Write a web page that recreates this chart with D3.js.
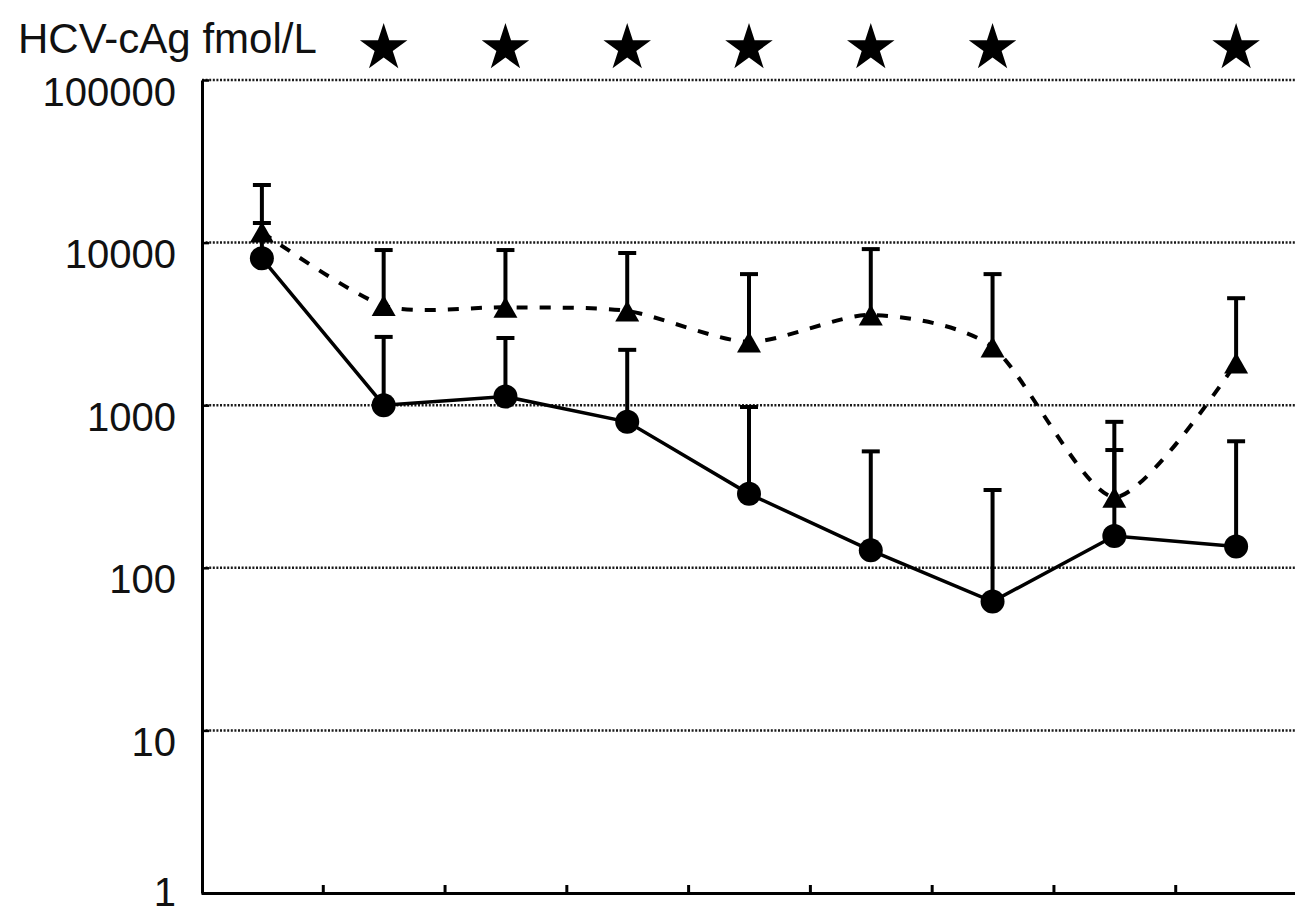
<!DOCTYPE html>
<html>
<head>
<meta charset="utf-8">
<script src="https://cdn.jsdelivr.net/npm/d3@7"></script>
<style>
  html, body { margin: 0; padding: 0; background: #fff; }
  svg { display: block; }
  text { font-family: "Liberation Sans", Arial, sans-serif; fill: #111; }
</style>
</head>
<body>
<svg id="chart" width="1295" height="920"></svg>
<script>
// Time points along the x axis (unlabelled in the figure)
const timePoints = ["T0", "T1", "T2", "T3", "T4", "T5", "T6", "T7", "T8"];

// Solid series (circles): mean and upper error bar, fmol/L
const solidMean  = [8000, 1000, 1130, 790, 285, 128, 62, 157, 135];
const solidUpper = [13200, 2630, 2590, 2190, 975, 520, 301, 530, 600];

// Dashed series (triangles): mean and upper error bar, fmol/L
const dashedMean  = [11600, 4100, 4000, 3800, 2450, 3590, 2280, 272, 1820];
const dashedUpper = [22600, 9000, 9000, 8630, 6400, 9120, 6400, 790, 4550];

// Time points marked as significant
const starred = ["T1", "T2", "T3", "T4", "T5", "T6", "T8"];

const yTicks = [1, 10, 100, 1000, 10000, 100000];
const yTitle = "HCV-cAg fmol/L";

const svg = d3.select("#chart");
const W = 1295;
const plot = { left: 201, right: 1297, top: 80, bottom: 893 };

const x = d3.scaleBand().domain(timePoints).range([plot.left, plot.right]);
const xc = d => x(d) + x.bandwidth() / 2;
const xEdges = d3.scaleLinear().domain([0, timePoints.length]).range([plot.left, plot.right]);
const y = d3.scaleLog().domain([1, 100000]).range([plot.bottom, plot.top]);

// Dotted horizontal gridlines
svg.append("g")
  .selectAll("line")
  .data(yTicks.filter(v => v > 1))
  .join("line")
  .attr("x1", plot.left + 1).attr("x2", W)
  .attr("y1", d => y(d)).attr("y2", d => y(d))
  .attr("stroke", "#1a1a1a")
  .attr("stroke-width", 2.5)
  .attr("stroke-dasharray", "2 1.6");

// Y axis with inward ticks, labels sitting just below each gridline
const yAxis = svg.append("g")
  .attr("transform", `translate(${plot.left + 1},0)`)
  .call(d3.axisLeft(y)
    .tickValues(yTicks)
    .tickFormat(d3.format("d"))
    .tickSizeInner(-7)
    .tickSizeOuter(0)
    .tickPadding(26));
yAxis.select(".domain").attr("stroke", "#000").attr("stroke-width", 3);
yAxis.selectAll(".tick line").attr("stroke", "#000").attr("stroke-width", 2.5);
yAxis.selectAll(".tick text")
  .attr("dy", d => d === 1 ? 12 : 25)   // bottom label tucked up so it stays on the page
  .style("font-size", "40px")
  .style("font-family", "\"Liberation Sans\", Arial, sans-serif")
  .attr("fill", "#111");

// X axis with inward ticks at the band boundaries
const xAxis = svg.append("g")
  .attr("transform", `translate(0,${plot.bottom})`)
  .call(d3.axisBottom(xEdges)
    .tickValues(d3.range(1, timePoints.length + 1))
    .tickFormat("")
    .tickSizeInner(-8)
    .tickSizeOuter(0));
xAxis.select(".domain").attr("stroke", "#000").attr("stroke-width", 3);
xAxis.selectAll(".tick line").attr("stroke", "#000").attr("stroke-width", 3);

// Axis title
svg.append("text")
  .attr("x", 18).attr("y", 53)
  .style("font-size", "42px")
  .text(yTitle);

function drawSeries(means, uppers, opts) {
  const pts = timePoints.map((t, i) => ({ t, m: means[i], u: uppers[i] }));
  const g = svg.append("g");

  // error bars (upper only)
  g.selectAll("line.bar").data(pts).join("line")
    .attr("class", "bar")
    .attr("x1", d => xc(d.t)).attr("x2", d => xc(d.t))
    .attr("y1", d => y(d.m)).attr("y2", d => y(d.u))
    .attr("stroke", "#000").attr("stroke-width", 4);
  g.selectAll("line.cap").data(pts).join("line")
    .attr("class", "cap")
    .attr("x1", d => xc(d.t) - 9).attr("x2", d => xc(d.t) + 9)
    .attr("y1", d => y(d.u)).attr("y2", d => y(d.u))
    .attr("stroke", "#000").attr("stroke-width", 4);

  // connecting line
  g.append("path")
    .datum(pts)
    .attr("fill", "none")
    .attr("stroke", "#000")
    .attr("stroke-width", opts.width)
    .attr("stroke-dasharray", opts.dash)
    .attr("d", d3.line().x(d => xc(d.t)).y(d => y(d.m)).curve(opts.curve));

  // markers
  if (opts.marker === "circle") {
    g.selectAll("circle").data(pts).join("circle")
      .attr("cx", d => xc(d.t)).attr("cy", d => y(d.m))
      .attr("r", 12).attr("fill", "#000");
  } else {
    const w = 24, h = 21;
    g.selectAll("path.tri").data(pts).join("path")
      .attr("class", "tri")
      .attr("transform", d => `translate(${xc(d.t)},${y(d.m)})`)
      .attr("d", `M0,${-h / 2}L${w / 2},${h / 2}L${-w / 2},${h / 2}Z`)
      .attr("fill", "#000");
  }
}

drawSeries(solidMean, solidUpper, { width: 3.5, dash: null, curve: d3.curveLinear, marker: "circle" });
drawSeries(dashedMean, dashedUpper, { width: 4, dash: "11 12", curve: d3.curveCardinal.tension(0.25), marker: "triangle" });

// Significance stars above the plot
svg.append("g")
  .selectAll("path")
  .data(starred)
  .join("path")
  .attr("transform", d => `translate(${xc(d)},48)`)
  .attr("d", d3.symbol(d3.symbolStar, 700))
  .attr("fill", "#000");
</script>
</body>
</html>
